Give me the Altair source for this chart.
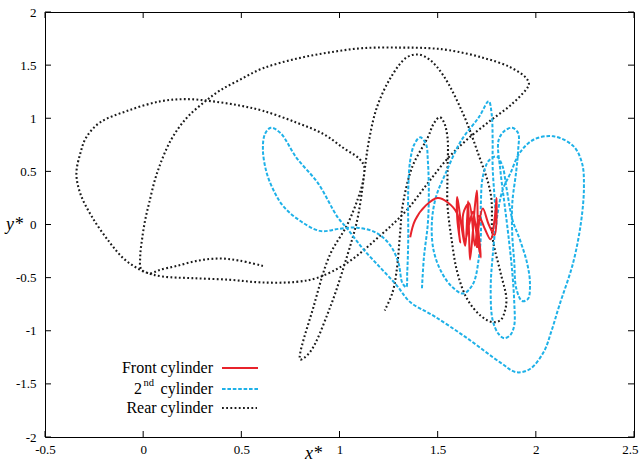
import altair as alt
import pandas as pd

# ---------------- data ----------------
front_x = [1.36, 1.385, 1.44, 1.50, 1.55, 1.60, 1.61, 1.615, 1.60, 1.60, 1.62, 1.64, 1.65, 1.655,
           1.66, 1.665, 1.68, 1.69, 1.70, 1.705, 1.72, 1.70, 1.68, 1.66, 1.64, 1.63, 1.66, 1.69,
           1.71, 1.74, 1.77, 1.79, 1.80, 1.79, 1.76, 1.73, 1.71, 1.70]
front_y = [-0.12, 0.04, 0.18, 0.25, 0.21, 0.10, -0.10, -0.17, 0.05, 0.26, 0.0, -0.20, 0.05, 0.22,
           -0.10, -0.33, -0.05, 0.18, 0.32, 0.0, -0.31, -0.12, 0.12, 0.0, -0.15, 0.10, 0.20, -0.20,
           0.08, -0.04, -0.14, 0.05, 0.25, -0.10, 0.0, 0.15, 0.0, -0.22]

second_x = [1.42, 1.43, 1.45, 1.455, 1.45, 1.44, 1.41, 1.38, 1.36, 1.35, 1.35, 1.345, 1.34, 1.32,
            1.30, 1.26, 1.19, 1.09, 1.0, 0.90, 0.78, 0.71, 0.67, 0.63, 0.61, 0.62, 0.65, 0.70,
            0.78, 0.89, 0.99, 1.04, 1.12, 1.21, 1.29, 1.36, 1.48, 1.65, 1.82, 1.90, 1.97, 2.04,
            2.08, 2.12, 2.19, 2.23, 2.245, 2.235, 2.19, 2.09, 1.99, 1.92, 1.87, 1.83, 1.80, 1.78,
            1.77, 1.78, 1.81, 1.84, 1.87, 1.89, 1.89, 1.88, 1.86, 1.84, 1.82, 1.81, 1.84, 1.88,
            1.91, 1.91, 1.90, 1.88, 1.88, 1.89, 1.90, 1.93, 1.96, 1.97, 1.955, 1.92, 1.88, 1.85,
            1.83, 1.80, 1.76, 1.73, 1.72, 1.72, 1.71, 1.68, 1.63, 1.57, 1.52, 1.48, 1.47, 1.49,
            1.54, 1.62, 1.71, 1.76, 1.775, 1.78, 1.78, 1.79, 1.80]
second_y = [-0.60, -0.31, 0.01, 0.30, 0.60, 0.76, 0.82, 0.75, 0.60, 0.32, -0.15, -0.45, -0.59, -0.55,
            -0.36, -0.20, -0.08, -0.03, -0.04, -0.06, 0.06, 0.18, 0.30, 0.48, 0.70, 0.85, 0.91, 0.86,
            0.63, 0.39, 0.07, -0.04, -0.23, -0.41, -0.57, -0.73, -0.86, -1.07, -1.30, -1.39, -1.36, -1.20,
            -1.0, -0.76, -0.36, 0.02, 0.35, 0.58, 0.74, 0.83, 0.80, 0.68, 0.48, 0.32, 0.04, -0.30,
            -0.60, -0.90, -1.03, -1.07, -1.04, -0.95, -0.73, -0.45, -0.10, 0.20, 0.50, 0.79, 0.88, 0.91,
            0.86, 0.70, 0.50, 0.20, -0.10, -0.35, -0.60, -0.72, -0.70, -0.55, -0.36, -0.15, 0.05, 0.35,
            0.55, 0.64, 0.60, 0.45, 0.20, -0.10, -0.31, -0.56, -0.65, -0.58, -0.45, -0.25, 0.0, 0.25,
            0.48, 0.79, 1.01, 1.16, 1.04, 0.79, 0.54, 0.25, 0.0]

rear_x = [0.61, 0.49, 0.39, 0.28, 0.17, 0.08, 0.036, -0.01, -0.015, -0.005, 0.01, 0.03, 0.07, 0.14,
          0.22, 0.31, 0.39, 0.49, 0.61, 0.78, 0.95, 1.12, 1.31, 1.45, 1.56, 1.73, 1.87, 1.95,
          1.965, 1.95, 1.87, 1.77, 1.65, 1.55, 1.45, 1.34, 1.21, 1.04, 0.89, 0.78, 0.60, 0.44,
          0.25, 0.10, 0.02, -0.04, -0.10, -0.17, -0.26, -0.32, -0.34, -0.32, -0.29, -0.22, -0.08, 0.09,
          0.22, 0.35, 0.49, 0.61, 0.78, 0.92, 1.02, 1.10, 1.125, 1.12, 1.095, 1.04, 0.95, 0.87,
          0.80, 0.85, 0.95, 1.04, 1.09, 1.115, 1.13, 1.15, 1.19, 1.26, 1.34, 1.40, 1.46, 1.53,
          1.63, 1.70, 1.77, 1.78, 1.82, 1.85, 1.84, 1.82, 1.78, 1.72, 1.65, 1.60, 1.57, 1.55,
          1.55, 1.55, 1.53, 1.51, 1.48, 1.45, 1.37, 1.32, 1.31, 1.29, 1.27, 1.23]
rear_y = [-0.39, -0.34, -0.32, -0.34, -0.39, -0.43, -0.46, -0.42, -0.30, -0.13, 0.04, 0.20, 0.48, 0.79,
          1.0, 1.15, 1.26, 1.36, 1.47, 1.56, 1.62, 1.66, 1.665, 1.66, 1.64, 1.57, 1.48, 1.38,
          1.32, 1.27, 1.12, 0.98, 0.80, 0.62, 0.39, 0.13, -0.10, -0.36, -0.50, -0.54, -0.545, -0.52,
          -0.505, -0.49, -0.455, -0.40, -0.32, -0.17, 0.07, 0.29, 0.48, 0.67, 0.82, 0.96, 1.07, 1.16,
          1.18, 1.16, 1.12, 1.07, 0.96, 0.85, 0.72, 0.62, 0.55, 0.41, 0.25, 0.0, -0.29, -0.76,
          -1.27, -1.20, -0.79, -0.29, 0.04, 0.32, 0.54, 0.79, 1.10, 1.38, 1.57, 1.60, 1.55, 1.40,
          1.04, 0.70, 0.29, -0.13, -0.45, -0.70, -0.83, -0.90, -0.92, -0.86, -0.70, -0.45, -0.13, 0.18,
          0.48, 0.82, 0.97, 1.01, 0.95, 0.82, 0.54, 0.16, -0.05, -0.45, -0.64, -0.81]

x_ticks = [-0.5, 0, 0.5, 1, 1.5, 2, 2.5]
y_ticks = [-2, -1.5, -1, -0.5, 0, 0.5, 1, 1.5, 2]

legend_labels = ["Front cylinder", "cylinder", "Rear cylinder"]

RED = "#e8232b"
BLUE = "#1eb1e8"
BLACK = "#1a1a1a"
FONT = "'Liberation Serif', 'Times New Roman', Times, serif"

W, H = 589, 425


def path_df(xs, ys):
    return pd.DataFrame({"x": xs, "y": ys, "o": list(range(len(xs)))})


xscale = alt.Scale(domain=[-0.5, 2.5], nice=False, zero=False)
yscale = alt.Scale(domain=[-2, 2], nice=False, zero=False)

xaxis = alt.Axis(values=x_ticks, ticks=False, domain=False, grid=False,
                 labelFont=FONT, labelFontSize=13, labelColor="black", labelPadding=6,
                 labelExpr="'' + datum.value", labelFlush=False,
                 labelAlign={"condition": {"test": "datum.value == 2.5", "value": "right"},
                             "value": "center"},
                 labelOffset={"condition": {"test": "datum.value == 2.5", "value": 4},
                              "value": 0},
                 title="x*", titleFont=FONT, titleFontSize=18, titleFontStyle="italic",
                 titleFontWeight="normal", titleColor="black",
                 titleX=268, titleY=16, titleAlign="center", titleBaseline="middle")
yaxis = alt.Axis(values=y_ticks, ticks=False, domain=False, grid=False,
                 labelFont=FONT, labelFontSize=13, labelColor="black", labelPadding=9,
                 labelExpr="'' + datum.value", labelFlush=False,
                 title="y*", titleFont=FONT, titleFontSize=18, titleFontStyle="italic",
                 titleFontWeight="normal", titleColor="black", titleAngle=0,
                 titleX=-31, titleY=212, titleAlign="center", titleBaseline="middle")

X = alt.X("x:Q", scale=xscale, axis=xaxis)
Y = alt.Y("y:Q", scale=yscale, axis=yaxis)

rear = alt.Chart(path_df(rear_x, rear_y)).mark_line(
    color=BLACK, strokeWidth=2.1, strokeDash=[1.8, 2.4], interpolate="catmull-rom"
).encode(x=X, y=Y, order="o:Q")

second = alt.Chart(path_df(second_x, second_y)).mark_line(
    color=BLUE, strokeWidth=2, strokeDash=[3.6, 1.8], interpolate="catmull-rom"
).encode(x=alt.X("x:Q", scale=xscale), y=alt.Y("y:Q", scale=yscale), order="o:Q")

front = alt.Chart(path_df(front_x, front_y)).mark_line(
    color=RED, strokeWidth=2, interpolate="catmull-rom"
).encode(x=alt.X("x:Q", scale=xscale), y=alt.Y("y:Q", scale=yscale), order="o:Q")

# inward ticks on all four sides (gnuplot style)
xt = pd.DataFrame({"v": x_ticks})
yt = pd.DataFrame({"v": y_ticks})
tick_len = 6
xb = alt.Chart(xt).mark_rule(color="black", strokeWidth=1).encode(
    x=alt.X("v:Q", scale=xscale), y=alt.value(H), y2=alt.value(H - tick_len))
xtop = alt.Chart(xt).mark_rule(color="black", strokeWidth=1).encode(
    x=alt.X("v:Q", scale=xscale), y=alt.value(0), y2=alt.value(tick_len))
yl = alt.Chart(yt).mark_rule(color="black", strokeWidth=1).encode(
    y=alt.Y("v:Q", scale=yscale), x=alt.value(0), x2=alt.value(tick_len))
yr = alt.Chart(yt).mark_rule(color="black", strokeWidth=1).encode(
    y=alt.Y("v:Q", scale=yscale), x=alt.value(W), x2=alt.value(W - tick_len))

# legend (inside the plot, bottom left)
leg_rows = [356, 377, 396]
leg_text = pd.DataFrame({"t": legend_labels, "yy": leg_rows})
leg_txt = alt.Chart(leg_text).mark_text(
    font=FONT, fontSize=16, align="right", baseline="middle", color="black"
).encode(text="t:N", x=alt.value(168), y=alt.Y("yy:Q", scale=None))
sup2 = alt.Chart(pd.DataFrame({"t": ["2"]})).mark_text(
    font=FONT, fontSize=16, align="right", baseline="middle", color="black"
).encode(text="t:N", x=alt.value(97), y=alt.value(leg_rows[1]))
supnd = alt.Chart(pd.DataFrame({"t": ["nd"]})).mark_text(
    font=FONT, fontSize=10.5, align="right", baseline="middle", color="black"
).encode(text="t:N", x=alt.value(109), y=alt.value(leg_rows[1] - 6))

leg_l1 = alt.Chart(pd.DataFrame({"a": [0]})).mark_rule(color=RED, strokeWidth=2).encode(
    x=alt.value(177), x2=alt.value(213), y=alt.value(leg_rows[0]))
leg_l2 = alt.Chart(pd.DataFrame({"a": [0]})).mark_rule(
    color=BLUE, strokeWidth=2, strokeDash=[3.6, 1.8]).encode(
    x=alt.value(177), x2=alt.value(213), y=alt.value(leg_rows[1]))
leg_l3 = alt.Chart(pd.DataFrame({"a": [0]})).mark_rule(
    color=BLACK, strokeWidth=2.1, strokeDash=[1.8, 2.4]).encode(
    x=alt.value(177), x2=alt.value(212), y=alt.value(leg_rows[2]))

chart = alt.layer(
    rear, second, front, xb, xtop, yl, yr,
    leg_txt, sup2, supnd, leg_l1, leg_l2, leg_l3
).properties(
    width=W, height=H,
    autosize=alt.AutoSizeParams(type="none"),
    padding={"left": 45, "top": 12, "right": 7, "bottom": 24},
    background="white",
).configure_view(stroke="black", strokeWidth=1)

chart.save("out.html", embed_options={"renderer": "svg", "actions": False})
